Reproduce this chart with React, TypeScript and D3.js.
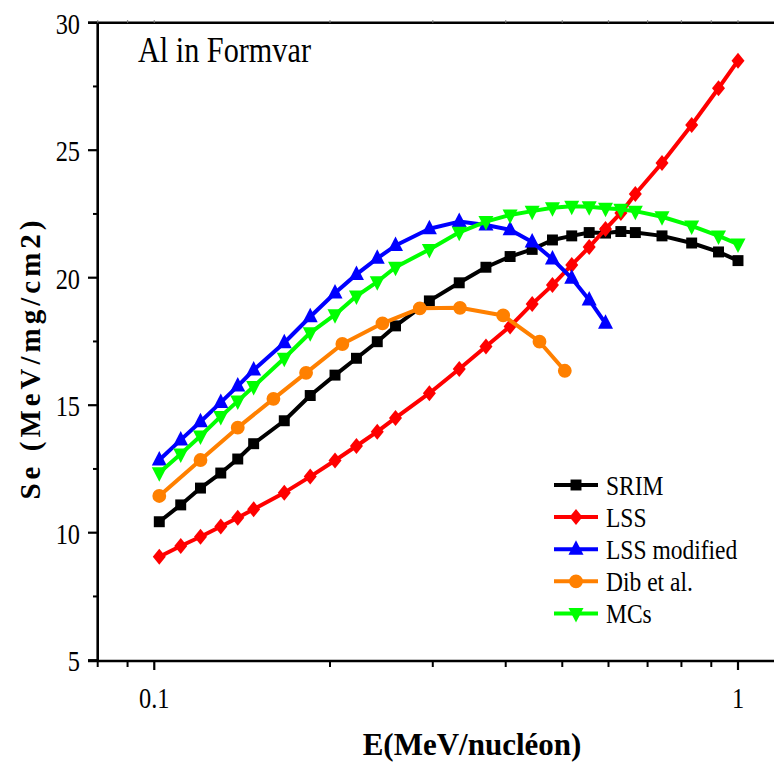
import React from "react";
import * as d3 from "d3";

// Energies in MeV/nucleon
const energyMain = [
  0.102, 0.111, 0.12, 0.13, 0.139, 0.148, 0.167, 0.185, 0.204, 0.222, 0.241, 0.259, 0.296,
  0.333, 0.37, 0.407, 0.444, 0.481, 0.519, 0.556, 0.593, 0.63, 0.667, 0.741, 0.833, 0.926, 1.0,
];
const energyDib = [0.102, 0.12, 0.139, 0.16, 0.182, 0.21, 0.246, 0.285, 0.334, 0.396, 0.457, 0.505];

// Electronic stopping Se (MeV/mg/cm2)
const srim = [
  10.43, 11.09, 11.75, 12.34, 12.89, 13.49, 14.39, 15.38, 16.18, 16.84, 17.49, 18.11, 19.09,
  19.8, 20.41, 20.83, 21.11, 21.48, 21.64, 21.77, 21.75, 21.81, 21.77, 21.64, 21.36, 21.01, 20.67,
];
const lss = [
  9.06, 9.48, 9.84, 10.24, 10.59, 10.92, 11.57, 12.2, 12.83, 13.4, 13.96, 14.5, 15.47, 16.42,
  17.3, 18.09, 18.97, 19.71, 20.5, 21.2, 21.91, 22.54, 23.28, 24.5, 25.99, 27.43, 28.51,
];
const lssModified = [
  12.85, 13.64, 14.35, 15.11, 15.75, 16.38, 17.45, 18.47, 19.4, 20.13, 20.76, 21.26, 21.92,
  22.2, 22.07, 21.88, 21.4, 20.73, 19.98, 19.13, 18.21,
];
const dib = [11.44, 12.85, 14.12, 15.25, 16.27, 17.4, 18.21, 18.8, 18.82, 18.52, 17.49, 16.35];
const mcs = [
  12.35, 13.09, 13.79, 14.56, 15.16, 15.73, 16.84, 17.84, 18.55, 19.28, 19.84, 20.41, 21.11,
  21.78, 22.2, 22.46, 22.61, 22.74, 22.8, 22.78, 22.72, 22.68, 22.61, 22.39, 22.03, 21.64, 21.32,
];

const seriesNames = ["SRIM", "LSS", "LSS modified", "Dib et al.", "MCs"];
const seriesColors = ["#000000", "#ff0000", "#0000ff", "#ff8000", "#00ff00"];

const yTicks = [5, 10, 15, 20, 25, 30];
const yMinorTicks = [7.5, 12.5, 17.5, 22.5, 27.5];
const xTicks = [0.1, 1];
const xMinorTicks = [0.08, 0.09, 0.2, 0.3, 0.4, 0.5, 0.6, 0.7, 0.8, 0.9];

const W = 774;
const H = 763;
const FONT = "'Liberation Serif', 'Times New Roman', serif";
const SQUEEZE = 0.84;

type Marker = "square" | "diamond" | "up" | "circle" | "down";

function markerPath(kind: Marker): string {
  switch (kind) {
    case "square":
      return d3.symbol().type(d3.symbolSquare).size(120)()!;
    case "diamond":
      return "M0,-8L6.5,0L0,8L-6.5,0Z";
    case "up":
      return "M0,-9L7.5,5.5L-7.5,5.5Z";
    case "down":
      return "M0,9L7.5,-5.5L-7.5,-5.5Z";
    default:
      return d3.symbol().type(d3.symbolCircle).size(150)()!;
  }
}

export default function App() {
  const x = d3.scaleLog().domain([0.08, 1]).range([97.7, 738]);
  const y = d3.scaleLinear().domain([5, 30]).range([660.2, 22.7]);

  const series: { name: string; color: string; xs: number[]; ys: number[]; marker: Marker }[] = [
    { name: seriesNames[0], color: seriesColors[0], xs: energyMain, ys: srim, marker: "square" },
    { name: seriesNames[1], color: seriesColors[1], xs: energyMain, ys: lss, marker: "diamond" },
    { name: seriesNames[2], color: seriesColors[2], xs: energyMain, ys: lssModified, marker: "up" },
    { name: seriesNames[3], color: seriesColors[3], xs: energyDib, ys: dib, marker: "circle" },
    { name: seriesNames[4], color: seriesColors[4], xs: energyMain, ys: mcs, marker: "down" },
  ];

  const line = d3
    .line<[number, number]>()
    .x((d) => x(d[0]))
    .y((d) => y(d[1]));

  const axisLeft = 97.7;
  const axisBottom = 661;
  const axisTop = 22.7;

  const legendX = 554;
  const legendY0 = 485;
  const legendDy = 32.1;

  return (
    <svg
      width={W}
      height={H}
      viewBox={`0 0 ${W} ${H}`}
      style={{ position: "absolute", left: 0, top: 0, background: "#fff" }}
    >
      <rect x={0} y={0} width={W} height={H} fill="#fff" />

      {/* frame lines */}
      <line x1={88} x2={W} y1={axisTop} y2={axisTop} stroke="#000" strokeWidth={2.6} />
      <line x1={axisLeft} x2={axisLeft} y1={axisTop} y2={axisBottom} stroke="#000" strokeWidth={2.6} />
      <line x1={88} x2={W} y1={axisBottom} y2={axisBottom} stroke="#000" strokeWidth={2.6} />

      {/* y ticks */}
      {yTicks.map((t) => (
        <g key={`yt${t}`}>
          <line x1={88} x2={axisLeft} y1={y(t)} y2={y(t)} stroke="#000" strokeWidth={2.2} />
          <text
            transform={`translate(80,${y(t) + 11}) scale(${SQUEEZE},1)`}
            textAnchor="end"
            fontFamily={FONT}
            fontSize={29}
            fill="#000"
          >
            {t}
          </text>
        </g>
      ))}
      {yMinorTicks.map((t) => (
        <line key={`ym${t}`} x1={93} x2={axisLeft} y1={y(t)} y2={y(t)} stroke="#000" strokeWidth={2} />
      ))}

      {/* x ticks */}
      {xTicks.map((t) => (
        <g key={`xt${t}`}>
          <line x1={x(t)} x2={x(t)} y1={axisBottom} y2={axisBottom + 9} stroke="#000" strokeWidth={2.2} />
          <line x1={x(t)} x2={x(t)} y1={axisTop} y2={axisTop - 2.5} stroke="#777" strokeWidth={1.2} />
          <text
            transform={`translate(${x(t)},${708}) scale(${SQUEEZE},1)`}
            textAnchor="middle"
            fontFamily={FONT}
            fontSize={29}
            fill="#000"
          >
            {t}
          </text>
        </g>
      ))}
      {xMinorTicks.map((t) => (
        <g key={`xm${t}`}>
          <line x1={x(t)} x2={x(t)} y1={axisBottom} y2={axisBottom + 6} stroke="#000" strokeWidth={2} />
          <line x1={x(t)} x2={x(t)} y1={axisTop} y2={axisTop - 2.5} stroke="#777" strokeWidth={1.2} />
        </g>
      ))}

      {/* series */}
      {series.map((s) => {
        const pts: [number, number][] = s.ys.map((v, i) => [s.xs[i], v]);
        const m = markerPath(s.marker);
        return (
          <g key={s.name}>
            <path d={line(pts)!} fill="none" stroke={s.color} strokeWidth={4} strokeLinejoin="round" />
            {pts.map((p, i) => (
              <path key={i} d={m} transform={`translate(${x(p[0])},${y(p[1])})`} fill={s.color} />
            ))}
          </g>
        );
      })}

      {/* title */}
      <text
        transform={`translate(138,62) scale(${SQUEEZE},1)`}
        fontFamily={FONT}
        fontSize={36}
        fill="#000"
      >
        Al in Formvar
      </text>

      {/* legend */}
      {series.map((s, i) => {
        const ly = legendY0 + i * legendDy;
        return (
          <g key={`lg${s.name}`}>
            <line x1={legendX} x2={legendX + 44} y1={ly} y2={ly} stroke={s.color} strokeWidth={4} />
            <path d={markerPath(s.marker)} transform={`translate(${legendX + 22},${ly})`} fill={s.color} />
            <text
              transform={`translate(${legendX + 52},${ly + 10}) scale(${SQUEEZE},1)`}
              fontFamily={FONT}
              fontSize={28}
              fill="#000"
            >
              {s.name}
            </text>
          </g>
        );
      })}

      {/* axis titles */}
      <text
        x={472}
        y={755}
        textAnchor="middle"
        fontFamily={FONT}
        fontWeight="bold"
        fontSize={31}
        fill="#000"
      >
        E(MeV/nucléon)
      </text>
      <text
        transform={`translate(40,358) rotate(-90)`}
        textAnchor="middle"
        fontFamily={FONT}
        fontWeight="bold"
        fontSize={29}
        letterSpacing={4}
        fill="#000"
      >
        Se (MeV/mg/cm2)
      </text>
    </svg>
  );
}
